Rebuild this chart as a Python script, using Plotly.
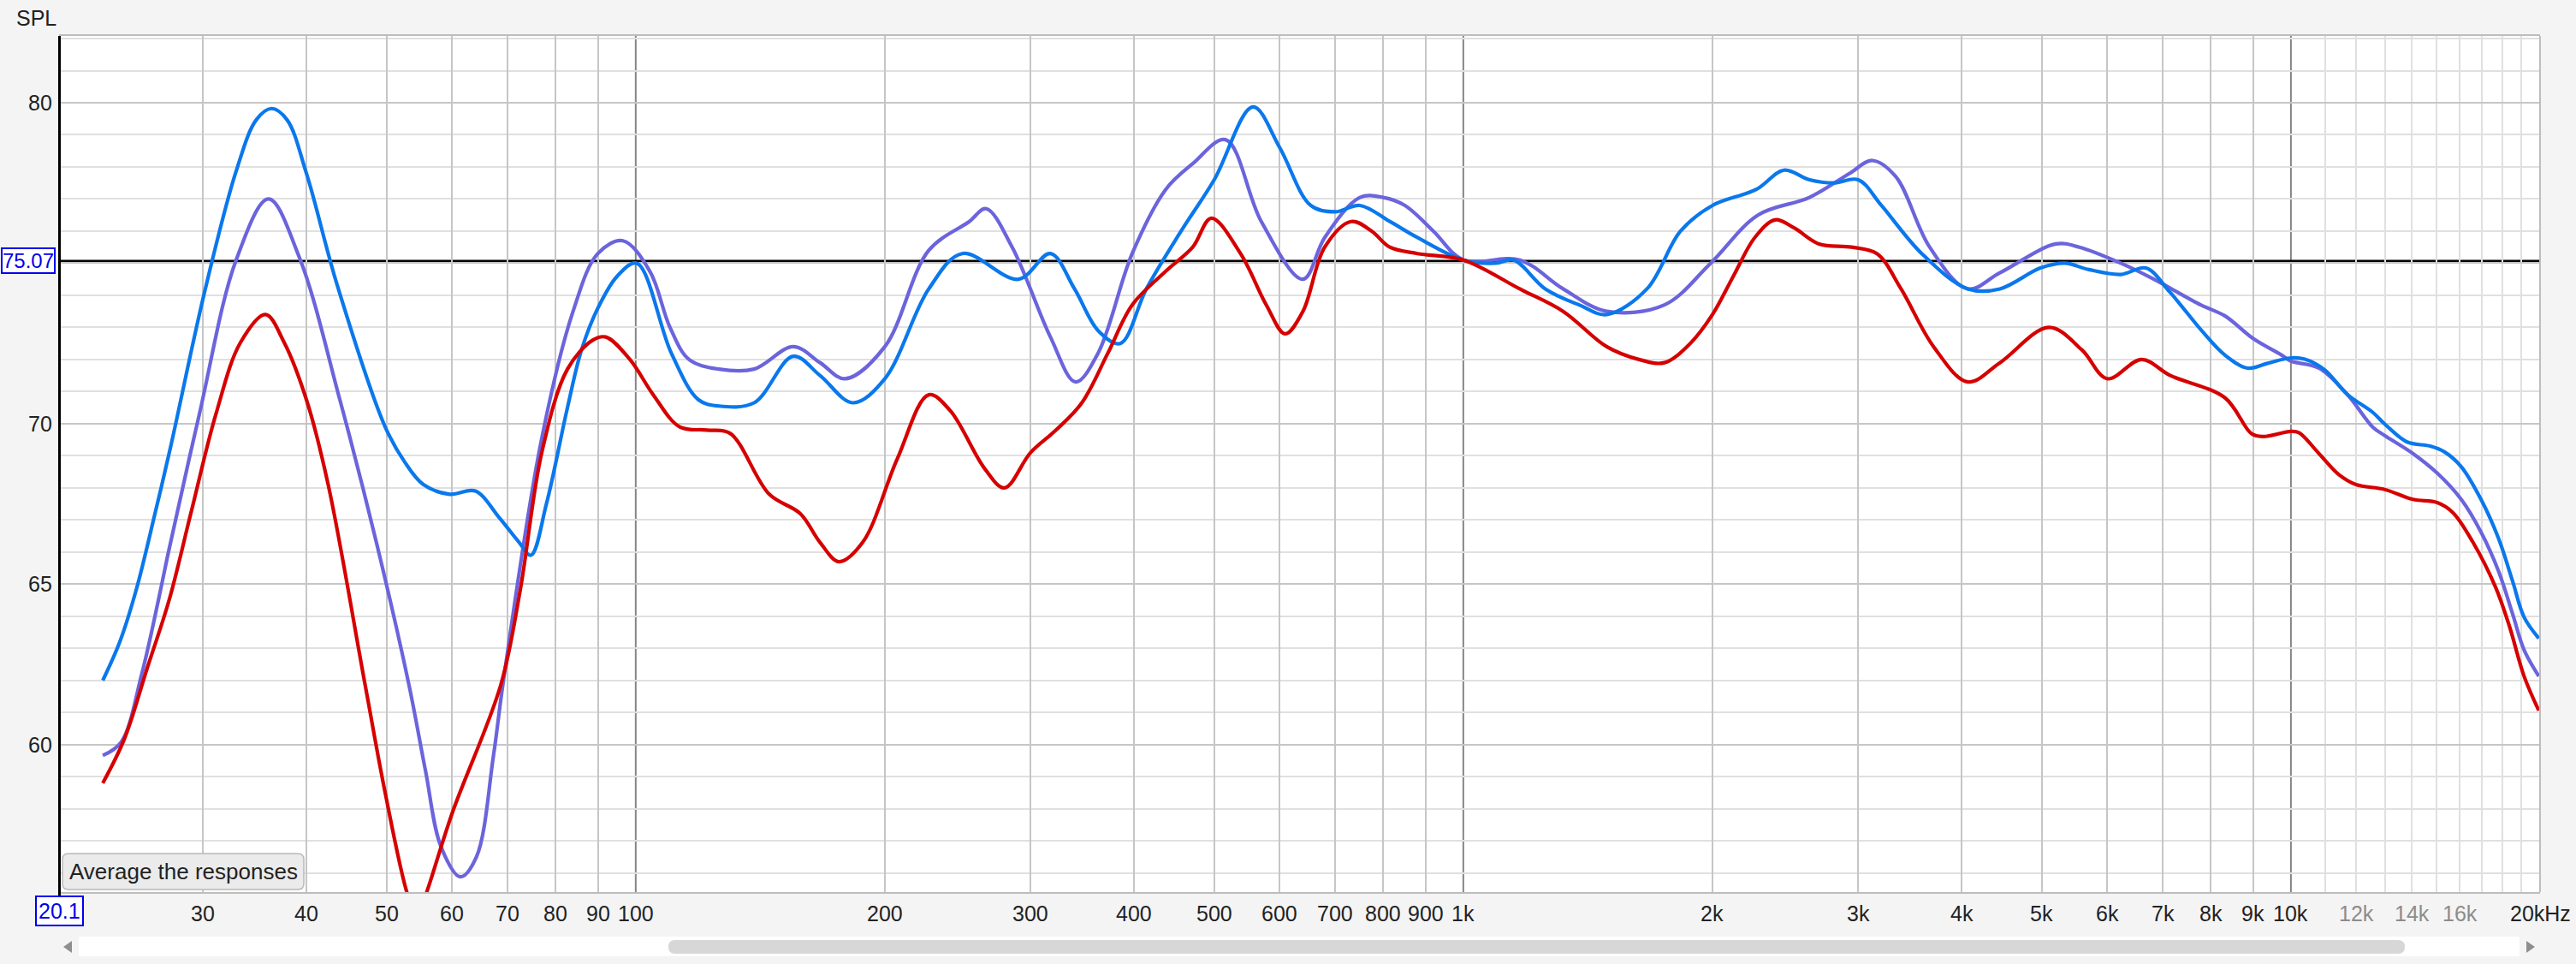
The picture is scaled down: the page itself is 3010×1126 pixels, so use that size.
import math
import plotly.graph_objects as go

# ---------------- data ----------------
FREQ_BLUE = [22.7, 23.8, 24.9, 26.25, 27.4, 30.1, 32.9, 34.8, 36.3, 37.9, 40.0, 43.6, 49.8, 52.6, 55.4,
             59.6, 64.0, 68.4, 72.3, 74.7, 78.0, 82.7, 86.0, 90.0, 95.0, 100.3, 110.4, 119, 126, 139, 155, 167,
             183, 200, 226, 248, 290, 317, 339, 362, 385, 414, 456, 500, 557, 600, 654, 700, 750,
             815, 880, 1000, 1094, 1150, 1256, 1380, 1490, 1667, 1830, 2000, 2260, 2440, 2620, 2800,
             3000, 3200, 3580, 4070, 4450, 4980, 5330, 5700, 6230, 6680, 7140, 7800, 8320, 8863,
             9369, 10000, 10390, 10980, 11700, 12560, 12980, 13815, 14730, 15330, 16060, 16970,
             17820, 18530, 19130, 19930]
SPL_BLUE = [62.0, 63.2, 64.8, 67.2, 69.25, 74.05, 77.87, 79.47, 79.82, 79.47, 77.8, 74.3, 69.9, 68.8, 68.1,
            67.8, 67.9, 67.07, 66.3, 65.9, 67.5, 70.5, 72.3, 73.6, 74.6, 75.0, 72.2, 70.75, 70.55, 70.65, 72.1, 71.5,
            70.65, 71.4, 74.2, 75.3, 74.5, 75.3, 74.2, 72.9, 72.5, 74.2, 76.0, 77.6, 79.87, 78.6, 76.8, 76.6, 76.8,
            76.3, 75.8, 75.1, 75.0, 75.1, 74.2, 73.7, 73.4, 74.2, 76.0, 76.8, 77.3, 77.9, 77.6, 77.5,
            77.6, 76.8, 75.3, 74.2, 74.2, 74.85, 75.0, 74.8, 74.65, 74.85, 74.1, 72.9, 72.14, 71.73,
            71.88, 72.05, 72.01, 71.68, 70.91, 70.35, 69.99, 69.43, 69.30, 69.12, 68.66, 67.64,
            66.42, 65.09, 63.97, 63.31]

FREQ_PURPLE = [22.7, 23.9, 25.3, 26.5, 27.2, 29.7, 32.9, 36.0, 39.2, 43.9, 48.6, 53.2, 55.7, 58.2, 61.4,
               64.2, 67.3, 69.1, 76.8, 84, 90, 96.5, 104, 110, 116, 126, 139, 155, 167, 179, 200,
               226, 253, 265, 285, 317, 340, 362, 398, 437, 471, 516, 570, 640, 680, 750, 800, 850,
               920, 1000, 1170, 1320, 1490, 1750, 1990, 2270, 2620, 2930, 3120, 3330, 3660, 4070,
               4450, 5200, 5550, 6230, 6830, 7780, 8320, 9005, 9740, 10000, 10810, 11700, 12560,
               12980, 14040, 15020, 16060, 16970, 17820, 18530, 19130, 19930]
SPL_PURPLE = [59.66, 60.08, 62.2, 64.5, 65.9, 70.3, 75.1, 77.0, 75.2, 70.75, 66.3, 61.87, 59.2, 56.8, 55.88,
              56.5, 59.64, 61.87, 69.4, 73.5, 75.3, 75.7, 74.75, 73.0, 72.0, 71.7, 71.7, 72.4, 71.9, 71.4, 72.4,
              75.4, 76.3, 76.7, 75.5, 72.7, 71.3, 72.2, 75.3, 77.3, 78.1, 78.85, 76.3, 74.5, 75.8, 77.05, 77.05, 76.8,
              76.0, 75.1, 75.1, 74.2, 73.5, 73.7, 75.0, 76.5, 77.05, 77.8, 78.2, 77.7, 75.5, 74.2,
              74.7, 75.6, 75.5, 75.0, 74.5, 73.7, 73.36, 72.65, 72.14, 71.95, 71.73, 70.91, 69.89,
              69.63, 69.07, 68.46, 67.64, 66.62, 65.40, 64.07, 62.95, 62.13]

FREQ_RED = [22.7, 24.1, 25.7, 27.3, 29.0, 31.1, 33.3, 35.7, 37.6, 40.0, 42.5, 47.1, 49.8, 52.9, 54.4,
            55.9, 60.0, 68.7, 72.5, 77, 82.7, 88.7, 92, 98.4, 105, 113, 122, 130, 145, 158, 167, 176,
            188, 207, 226, 240, 264, 279, 300, 322, 346, 372, 398, 437, 471, 496, 538, 578, 609, 640,
            680, 732, 775, 815, 880, 1000, 1170, 1320, 1490, 1630, 1750, 1880, 2000, 2120, 2250, 2380,
            2510, 2690, 2945, 3160, 3380, 3700, 4070, 4450, 5100, 5590, 6000, 6600, 7150, 8320,
            8968, 9258, 10000, 10225, 10810, 11427, 11985, 12980, 14040, 15020, 15690, 16580,
            17680, 18380, 19130, 19930]
SPL_RED = [58.8, 60.17, 62.4, 64.5, 67.2, 70.3, 72.53, 73.4, 72.53, 70.75, 68.1, 61.86, 58.5, 55.4, 54.6,
           55.4, 57.86, 61.86, 64.8, 69.1, 71.7, 72.6, 72.7, 72.0, 70.9, 69.9, 69.8, 69.7, 67.8, 67.2, 66.3, 65.7,
           66.3, 68.9, 70.9, 70.4, 68.6, 68.0, 69.1, 69.8, 70.65, 72.2, 73.7, 74.75, 75.5, 76.4, 75.3, 73.7, 72.8, 73.5,
           75.5, 76.3, 76.0, 75.5, 75.3, 75.1, 74.2, 73.5, 72.4, 72.0, 71.9, 72.5, 73.4, 74.6, 75.8, 76.35,
           76.1, 75.6, 75.5, 75.3, 74.2, 72.4, 71.3, 71.9, 73.0, 72.3, 71.4, 72.0, 71.5, 70.81,
           69.68, 69.60, 69.76, 69.72, 69.07, 68.41, 68.10, 67.95, 67.64, 67.54, 67.23, 66.32,
           64.89, 63.66, 62.13, 61.06]

REF_LEVEL = 75.07
X_MIN, X_MAX = 20.1, 20000
Y_MIN, Y_MAX = 55.404, 82.081

X_TICKS = [30, 40, 50, 60, 70, 80, 90, 100, 200, 300, 400, 500, 600, 700, 800, 900, 1000,
           2000, 3000, 4000, 5000, 6000, 7000, 8000, 9000, 10000, 12000, 14000, 16000, 20000]
X_TICK_TEXT = ["30", "40", "50", "60", "70", "80", "90", "100", "200", "300", "400", "500", "600",
               "700", "800", "900", "1k", "2k", "3k", "4k", "5k", "6k", "7k", "8k", "9k", "10k",
               "12k", "14k", "16k", "20kHz"]
X_TICK_DIM = ["12k", "14k", "16k"]
X_GRID_MAJOR = [30, 40, 50, 60, 70, 80, 90, 200, 300, 400, 500, 600, 700, 800, 900,
                2000, 3000, 4000, 5000, 6000, 7000, 8000, 9000]
X_GRID_DECADE = [100, 1000, 10000]
X_GRID_MINOR = [11000, 12000, 13000, 14000, 15000, 16000, 17000, 18000, 19000]
Y_TICKS = [60, 65, 70, 80]

# ---------------- layout geometry ----------------
W, H = 3010, 1126
ML, MR, MT, MB = 69, 42, 42, 84
PW, PH = W - ML - MR, H - MT - MB


def xp(px):
    return (px - ML) / PW


def yp(py):
    return (H - MB - py) / PH


FONT = "Liberation Sans, Arial, Helvetica, sans-serif"

fig = go.Figure()

for fr, sp, col in [(FREQ_PURPLE, SPL_PURPLE, "#6b64dc"),
                    (FREQ_BLUE, SPL_BLUE, "#0a78ec"),
                    (FREQ_RED, SPL_RED, "#d60000")]:
    fig.add_trace(go.Scatter(x=fr, y=sp, mode="lines", hoverinfo="skip",
                             line=dict(color=col, width=4.2, shape="spline", smoothing=1.0)))

shapes = []
for f in X_GRID_DECADE:
    shapes.append(dict(type="line", xref="x", yref="paper", x0=f, x1=f, y0=0, y1=1,
                       line=dict(color="#858585", width=2), layer="between"))
shapes.append(dict(type="line", xref="paper", yref="y", x0=0, x1=1, y0=REF_LEVEL, y1=REF_LEVEL,
                   line=dict(color="#000000", width=2.5), layer="between"))
shapes.append(dict(type="line", xref="paper", yref="paper", x0=1, x1=1, y0=0, y1=1,
                   line=dict(color="#bdbdbd", width=2)))
shapes.append(dict(type="line", xref="paper", yref="paper", x0=xp(69.5), x1=xp(69.5), y0=yp(42), y1=yp(1048),
                   line=dict(color="#000000", width=3)))


def rrect(x0, y0, x1, y1, r):
    X0, X1 = xp(x0), xp(x1)
    Y0, Y1 = yp(y0), yp(y1)
    rx, ry = r / PW, r / PH
    return (f"M{X0+rx},{Y0} L{X1-rx},{Y0} Q{X1},{Y0} {X1},{Y0-ry} L{X1},{Y1+ry} Q{X1},{Y1} {X1-rx},{Y1} "
            f"L{X0+rx},{Y1} Q{X0},{Y1} {X0},{Y1+ry} L{X0},{Y0-ry} Q{X0},{Y0} {X0+rx},{Y0} Z")


shapes.append(dict(type="path", xref="paper", yref="paper", path=rrect(73, 997, 355, 1039, 7),
                   fillcolor="#ebebeb", line=dict(color="#b9b9b9", width=1.5)))
shapes.append(dict(type="rect", xref="paper", yref="paper", x0=xp(92), x1=xp(2944), y0=yp(1117), y1=yp(1094),
                   fillcolor="#ffffff", line=dict(width=0)))
shapes.append(dict(type="path", xref="paper", yref="paper", path=rrect(781, 1098, 2810, 1114, 8),
                   fillcolor="#d7d7d7", line=dict(width=0)))
shapes.append(dict(type="path", xref="paper", yref="paper",
                   path=f"M{xp(74)},{yp(1106)} L{xp(84)},{yp(1099)} L{xp(84)},{yp(1113)} Z",
                   fillcolor="#8e8e8e", line=dict(width=0)))
shapes.append(dict(type="path", xref="paper", yref="paper",
                   path=f"M{xp(2962)},{yp(1106)} L{xp(2952)},{yp(1099)} L{xp(2952)},{yp(1113)} Z",
                   fillcolor="#8e8e8e", line=dict(width=0)))

ann = []
for f, t in zip(X_TICKS, X_TICK_TEXT):
    ann.append(dict(x=math.log10(f), xref="x", y=0, yref="paper", yshift=-25, yanchor="middle",
                    xanchor="center", text=t, showarrow=False,
                    font=dict(family=FONT, size=25, color="#8c8c8c" if t in X_TICK_DIM else "#222222")))
ann.append(dict(x=math.log10(X_MIN), xref="x", y=0, yref="paper", yshift=-22, yanchor="middle",
                xanchor="center", text="20.1", showarrow=False, bgcolor="#ffffff",
                bordercolor="#0000ee", borderwidth=2, borderpad=2,
                font=dict(family=FONT, size=25, color="#0000ee")))
for v in Y_TICKS:
    ann.append(dict(x=0, xref="paper", xshift=-6, xanchor="right", y=v, yref="y", yanchor="middle",
                    text=str(v), showarrow=False, font=dict(family=FONT, size=25, color="#222222")))
ann.append(dict(x=0, xref="paper", xshift=-4, xanchor="right", y=REF_LEVEL, yref="y", yanchor="middle",
                text=f"{REF_LEVEL:.2f}", showarrow=False, bgcolor="#ffffff", bordercolor="#0000ee",
                borderwidth=2, borderpad=0, font=dict(family=FONT, size=24, color="#0000ee")))
ann.append(dict(x=xp(17), xref="paper", xanchor="left", y=yp(21), yref="paper", yanchor="middle",
                text="SPL", showarrow=False, font=dict(family=FONT, size=25, color="#222222")))
ann.append(dict(x=xp(79), xref="paper", xanchor="left", y=yp(1018), yref="paper", yanchor="middle",
                text="Average the responses", showarrow=False,
                font=dict(family=FONT, size=26, color="#222222")))

fig.update_layout(
    width=W, height=H, margin=dict(l=ML, r=MR, t=MT, b=MB, pad=0),
    paper_bgcolor="#f4f4f4", plot_bgcolor="#ffffff", showlegend=False, hovermode=False,
    shapes=shapes, annotations=ann,
    xaxis=dict(type="log", range=[math.log10(X_MIN), math.log10(X_MAX)], tickvals=X_GRID_MAJOR,
               showticklabels=False, ticks="", showgrid=True, gridcolor="#c6c6c6", gridwidth=2,
               minor=dict(tickvals=X_GRID_MINOR, showgrid=True, gridcolor="#e0e0e0", gridwidth=2, ticks=""),
               showline=True, linecolor="#bdbdbd", linewidth=2, mirror=True, zeroline=False, fixedrange=True),
    yaxis=dict(range=[Y_MIN, Y_MAX], tick0=0, dtick=5, showticklabels=False, ticks="",
               showgrid=True, gridcolor="#c6c6c6", gridwidth=2,
               minor=dict(dtick=1, showgrid=True, gridcolor="#e0e0e0", gridwidth=2, ticks=""),
               showline=False, zeroline=False, fixedrange=True),
)

fig.write_html("out.html", config={"displayModeBar": False},
               post_script="document.body.style.margin='0';document.body.style.overflow='hidden';")
